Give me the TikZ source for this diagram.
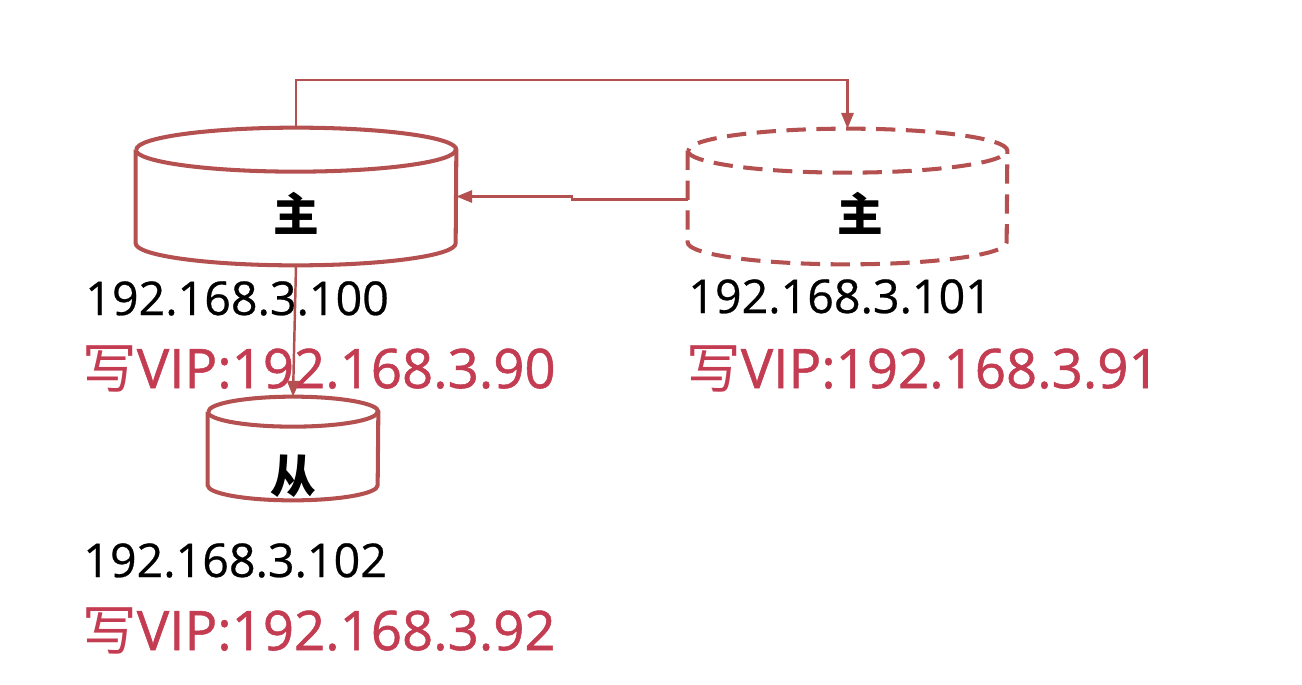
\documentclass[tikz,border=0pt]{standalone}
\usepackage{fontspec}
\setmainfont{Open Sans}
\newfontfamily\cjk{Noto Sans CJK SC}
\usetikzlibrary{arrows.meta}
\definecolor{dbred}{RGB}{180,80,80}
\definecolor{vipred}{RGB}{196,60,82}

\begin{document}
\begin{tikzpicture}[
  dbbox/.style={inner sep=0pt,font=\cjk\bfseries\fontsize{26}{30}\selectfont},
  cyl/.style={draw=dbred,line width=2.3pt},
  dbdash/.style={dash pattern=on 11pt off 6pt},
  iptext/.style={anchor=base west,inner sep=0pt,font=\fontsize{26.5}{30}\selectfont\addfontfeatures{FakeBold=0.6}},
  viptext/.style={anchor=base west,inner sep=0pt,text=vipred,font=\fontsize{31}{36}\selectfont\addfontfeatures{FakeBold=1}},
  link/.style={draw=dbred,line width=1.4pt,-{Triangle[length=9pt,width=7pt]}}
]
  \useasboundingbox (0,0) rectangle (26.04,-13.68);

  % Databases
  \node[dbbox,minimum width=6.4cm,minimum height=2.74cm] (master) at (5.92,-3.93) {};
  \node[dbbox,minimum width=6.38cm,minimum height=2.7cm] (backup) at (16.95,-3.93) {};
  \node[dbbox,minimum width=3.4cm,minimum height=2.06cm] (slave) at (5.86,-8.97) {};
  \foreach \n/\rx/\ry/\st in {master/3.2/0.44/solid, backup/3.19/0.44/dbdash, slave/1.7/0.3/solid} {
    \draw[cyl,\st] ([yshift=-\ry cm]\n.north west) -- ([yshift=\ry cm]\n.south west)
      arc[start angle=180,end angle=360,x radius=\rx,y radius=\ry]
      -- ([yshift=-\ry cm]\n.north east)
      arc[start angle=0,end angle=180,x radius=\rx,y radius=\ry];
    \draw[cyl,\st] ([yshift=-\ry cm]\n.north west)
      arc[start angle=180,end angle=360,x radius=\rx,y radius=\ry];
  }

  \node[dbbox] (masterlbl) at (5.92,-4.26) {主};
  \node[dbbox] (backuplbl) at (17.2,-4.26) {主};
  \node[dbbox] (slavelbl) at (5.86,-9.52) {从};

  % Addresses
  \foreach \x/\y/\name/\ip in {1.7/-6.3/ipmaster/100, 13.76/-6.26/ipbackup/101, 1.66/-11.54/ipslave/102}
    \node[iptext] (\name) at (\x,\y) {192.168.3.\ip};
  \foreach \x/\y/\name/\ip in {1.64/-7.76/vipmaster/90, 13.72/-7.76/vipbackup/91, 1.64/-13.0/vipslave/92}
    \node[viptext] (\name) at (\x,\y) {{\cjk 写}VIP:192.168.3.\ip};

  % Replication
  \coordinate (topleft) at (5.92,-1.6);
  \coordinate (topright) at (16.95,-1.6);
  \coordinate (stepA) at (11.44,-3.99);
  \draw[link] (master.north) -- (topleft) -- (topright) -- (backup.north);
  \draw[link] (backup.west |- stepA) -- (stepA) -- (stepA |- master.east) -- (master.east);
  \draw[link] (master.south) -- (slave.north);
\end{tikzpicture}
\end{document}
